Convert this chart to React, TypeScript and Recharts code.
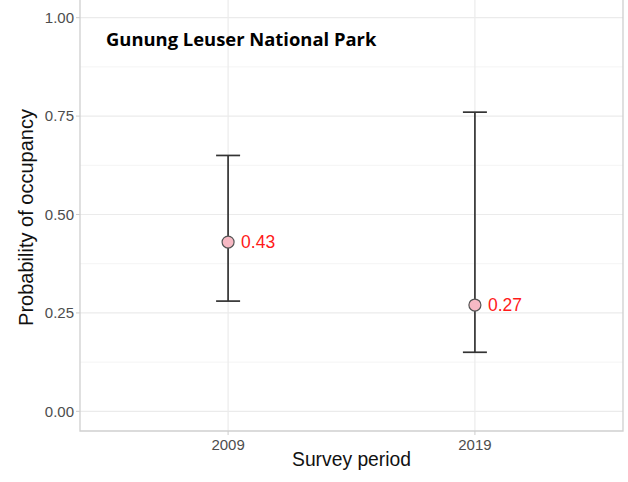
import React from 'react';
import {
  ComposedChart, Scatter, XAxis, YAxis, CartesianGrid, ErrorBar, ReferenceArea, Label,
} from 'recharts';

const periods = ['2009', '2019'];
const means = [0.43, 0.27];
const lowers = [0.28, 0.15];
const uppers = [0.65, 0.76];
const yTicks = [0, 0.25, 0.5, 0.75, 1];
const yMinorTicks = [0.125, 0.375, 0.625, 0.875];
const title = 'Gunung Leuser National Park';

const data = periods.map((p, i) => ({
  x: i + 1,
  label: p,
  mean: means[i],
  err: [means[i] - lowers[i], uppers[i] - means[i]],
}));

const PointShape = (props: any) => {
  const { cx, cy, payload } = props;
  return (
    <g>
      <circle cx={cx} cy={cy} r={6} fill="#f7b9c4" stroke="#555555" strokeWidth={1.2} />
      <text x={cx + 13} y={cy + 6} fill="#ff1a1a" fontSize={17.5} fontFamily="Liberation Sans, Arial, sans-serif">
        {payload.mean.toFixed(2)}
      </text>
    </g>
  );
};

const font = 'Liberation Sans, Arial, sans-serif';

export default function App() {
  return (
    <div style={{ position: 'absolute', left: 0, top: -10, width: 628, height: 492, background: '#fff' }}>
      <ComposedChart width={628} height={492} margin={{ top: 8, right: 5, bottom: 21, left: 0 }}>
        <CartesianGrid horizontalValues={yMinorTicks} vertical={false} stroke="#f4f4f4" strokeWidth={1} />
        <CartesianGrid horizontalValues={yTicks} verticalValues={[1, 2]} stroke="#ebebeb" strokeWidth={1.2} />
        <ReferenceArea x1={0.4} x2={2.6} y1={-0.05} y2={1.05} fill="none" stroke="#cfcfcf" strokeWidth={1.3} ifOverflow="visible" />
        <XAxis
          type="number"
          dataKey="x"
          domain={[0.4, 2.6]}
          ticks={[1, 2]}
          tickFormatter={(v: number) => periods[v - 1]}
          height={30}
          axisLine={false}
          tickLine={{ stroke: '#cccccc' }}
          tickSize={4}
          tick={{ fill: '#4d4d4d', fontSize: 15, fontFamily: font, dy: 2 }}
          allowDataOverflow
        >
          <Label
            content={(p: any) => {
              const vb = p.viewBox;
              return (
                <text x={vb.x + vb.width / 2} y={vb.y + 35} textAnchor="middle" fontSize={19.3} fontFamily={font} fill="#111">
                  Survey period
                </text>
              );
            }}
          />
        </XAxis>
        <YAxis
          type="number"
          domain={[-0.05, 1.05]}
          ticks={yTicks}
          tickFormatter={(v: number) => v.toFixed(2)}
          width={80}
          axisLine={false}
          tickLine={{ stroke: '#cccccc' }}
          tickSize={4}
          tick={{ fill: '#4d4d4d', fontSize: 15, fontFamily: font }}
          allowDataOverflow
        >
          <Label
            content={(p: any) => {
              const vb = p.viewBox;
              const cx = 33;
              const cy = vb.y + vb.height / 2 + 3;
              return (
                <text x={cx} y={cy} transform={`rotate(-90 ${cx} ${cy})`} textAnchor="middle" fontSize={20} fontFamily={font} fill="#111">
                  Probability of occupancy
                </text>
              );
            }}
          />
        </YAxis>
        <Scatter data={data} dataKey="mean" isAnimationActive={false} shape={<PointShape />}>
          <ErrorBar dataKey="err" direction="y" width={12} stroke="#333333" strokeWidth={1.7} />
        </Scatter>
        <text x={106} y={56} fontSize={18.4} fontWeight={700} fontFamily="Open Sans, Lato, sans-serif" fill="#000">
          {title}
        </text>
      </ComposedChart>
    </div>
  );
}
